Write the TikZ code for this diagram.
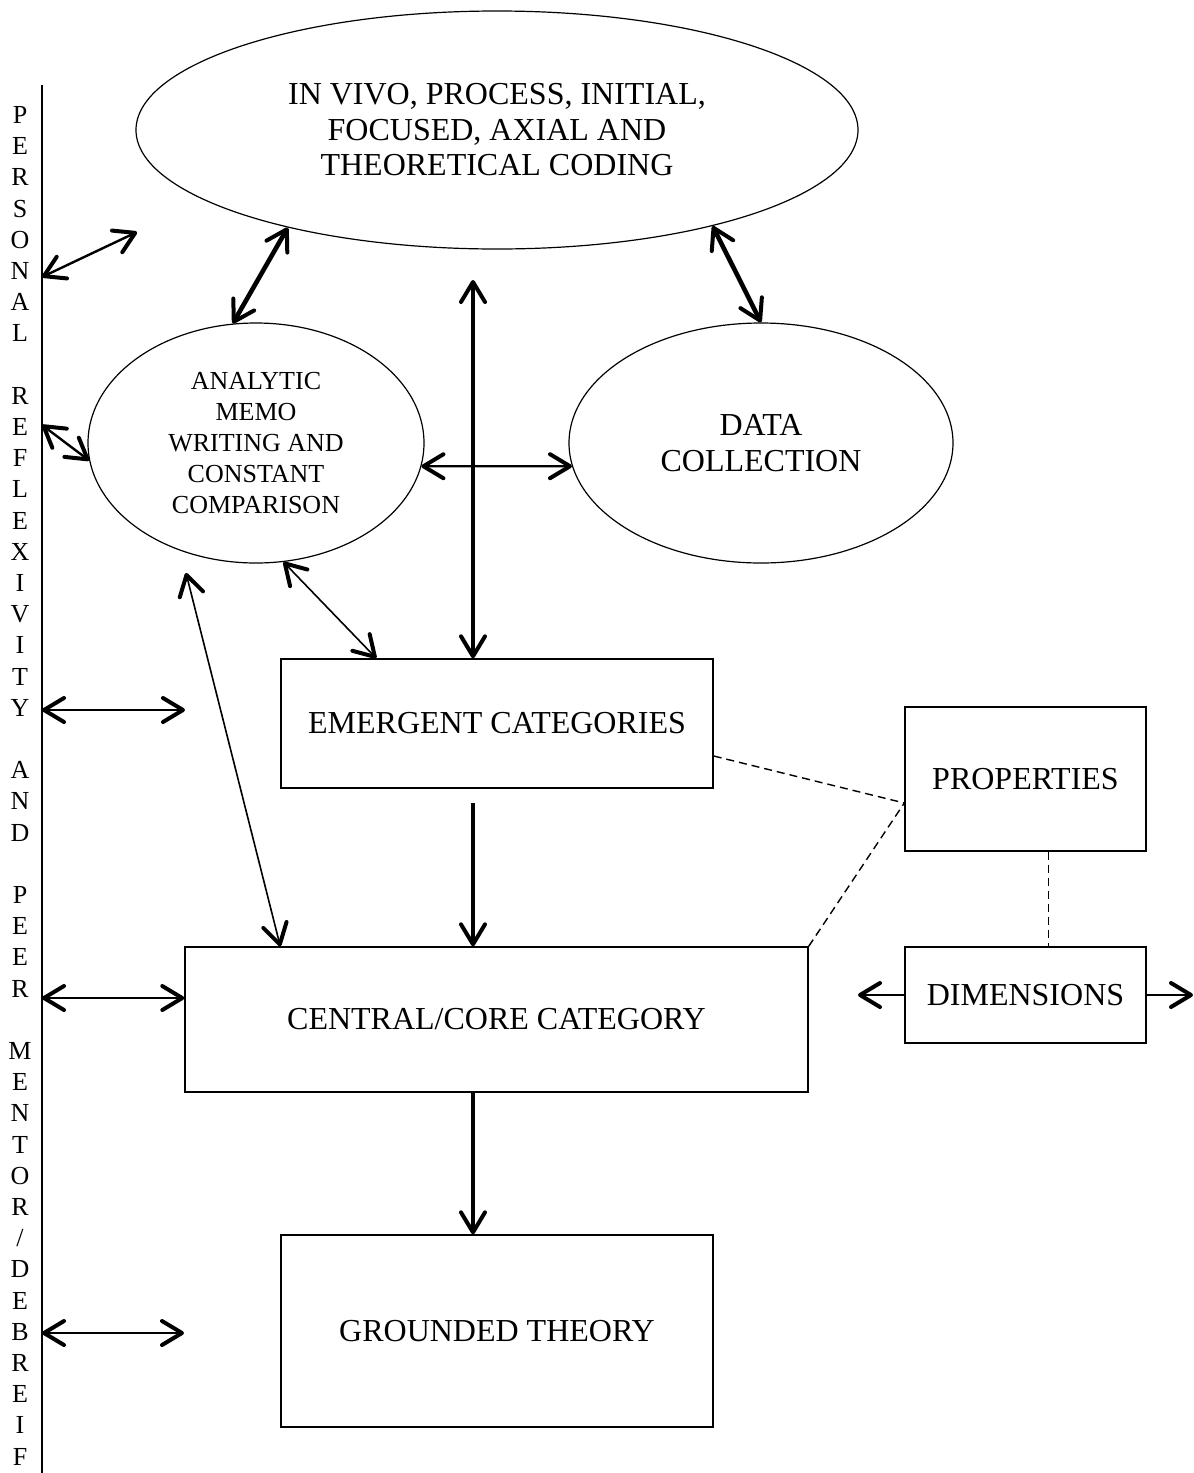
\documentclass[tikz,border=0pt]{standalone}
\usepackage{fontspec}
\setmainfont{Liberation Serif}
\usetikzlibrary{shapes.geometric,arrows.meta}
\begin{document}
\begin{tikzpicture}[x=0.5pt, y=-0.5pt, >={Straight Barb[length=10pt,width=12pt,line width=2pt,round]}]
    \tikzstyle{oval} = [draw, ellipse, inner sep=0pt, line width=0.6pt, align=center]
    \tikzstyle{box} = [draw, rectangle, inner sep=0pt, line width=0.7pt, align=center, font=\fontsize{16}{18}\selectfont]
    \tikzstyle{heavy} = [line width=2.3pt]
    \tikzstyle{medium} = [line width=1.2pt]
    \tikzstyle{light} = [line width=0.8pt]
    \tikzstyle{link} = [dash pattern=on 4pt off 2.5pt, line width=0.7pt]
    \useasboundingbox (0,0) rectangle (1194,1473);
    % ellipses
    \node[oval, minimum width=361pt, minimum height=119pt, font=\fontsize{16}{17.75}\selectfont] (coding) at (497,130)
      {IN VIVO, PROCESS, INITIAL,\\ FOCUSED, AXIAL AND\\ THEORETICAL CODING};
    \node[oval, minimum width=168pt, minimum height=120pt, font=\fontsize{13}{15.5}\selectfont] (memo) at (256,443)
      {ANALYTIC\\ MEMO\\ WRITING AND\\ CONSTANT\\ COMPARISON};
    \node[oval, minimum width=192pt, minimum height=120pt, font=\fontsize{16}{18}\selectfont] (data) at (761,443)
      {DATA\\ COLLECTION};
    % boxes
    \node[box, minimum width=216pt, minimum height=64.5pt] (emergent) at (497,723.5) {EMERGENT CATEGORIES};
    \node[box, minimum width=311.5pt, minimum height=72.5pt] (central) at (496.5,1019.5) {CENTRAL/CORE CATEGORY};
    \node[box, minimum width=216pt, minimum height=96pt] (grounded) at (497,1331) {GROUNDED THEORY};
    \node[box, minimum width=120.5pt, minimum height=72pt] (props) at (1025.5,779) {PROPERTIES};
    \node[box, minimum width=120.5pt, minimum height=48pt] (dims) at (1025.5,995) {DIMENSIONS};
    % side label and bar
    \foreach \ch [count=\i from 0] in {P,E,R,S,O,N,A,L,{},R,E,F,L,E,X,I,V,I,T,Y,{},A,N,D,{},P,E,E,R,{},M,E,N,T,O,R,/,D,E,B,R,E,I,F}
      \node[font=\fontsize{13}{15}\selectfont, inner sep=0pt] (ltr\i) at (20,{115+31.2*\i}) {\ch};
    \coordinate (bartop) at (42,85);
    \coordinate (barbot) at (42,1473);
    \draw[line width=1pt] (bartop) -- (barbot);
    % arrows from the bar
    \coordinate (r1) at (42,277);
    \coordinate (f1) at (137,232);
    \coordinate (r2) at (42,425);
    \coordinate (r3) at (42,710);
    \coordinate (f3) at (185,710);
    \coordinate (r4) at (42,998);
    \coordinate (r5) at (42,1333);
    \coordinate (f5) at (184,1333);
    \draw[<->, medium] (r1) -- (f1);
    \draw[<->, medium] (r2) -- (memo.186);
    \draw[<->, medium] (r3) -- (f3);
    \draw[<->, medium] (r4) -- (central.west |- r4);
    \draw[<->, medium] (r5) -- (f5);
    % arrows between the parts
    \coordinate (vtop) at (473,280);
    \coordinate (ebase) at (473,803);
    \coordinate (mfree) at (186,573);
    \draw[<->, heavy] (vtop) -- (emergent.north -| vtop);
    \draw[<->, heavy] (coding.205) -- (memo.101);
    \draw[<->, heavy] (coding.-24) -- (data.north);
    \draw[<->, medium] (memo.-8) -- (data.187);
    \draw[<->, light] (memo.-77) -- ([xshift=48pt]emergent.north west);
    \draw[<->, light] (mfree) -- ([xshift=48pt]central.north west);
    \draw[->, heavy] (ebase) -- (central.north -| ebase);
    \draw[->, heavy] (central.south -| ebase) -- (grounded.north -| ebase);
    % dashed links
    \coordinate (pin) at ([yshift=-12pt]props.west);
    \draw[link] ([yshift=-16.25pt]emergent.east) -- (pin);
    \draw[link] (central.north east) -- (pin);
    \draw[link] ([xshift=11.5pt]props.south) -- ([xshift=11.5pt]dims.north);
    \coordinate (dl) at (858,995);
    \coordinate (dr) at (1193,995);
    \draw[->, medium] (dims.west) -- (dl);
    \draw[->, medium] (dims.east) -- (dr);
\end{tikzpicture}
\end{document}
